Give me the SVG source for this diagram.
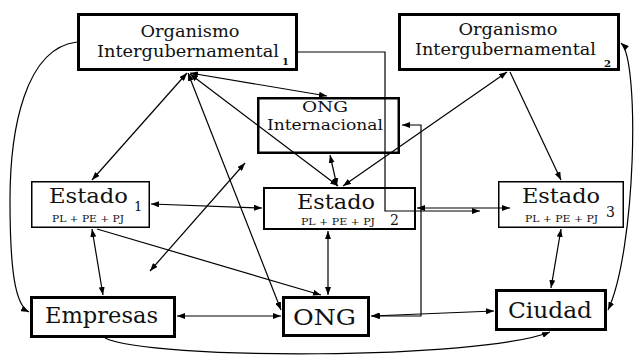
<svg xmlns="http://www.w3.org/2000/svg" width="635" height="355" viewBox="0 0 635 355">
<defs>
<marker id="ah" viewBox="0 0 8 6" refX="8" refY="3" markerWidth="8" markerHeight="6" markerUnits="userSpaceOnUse" orient="auto-start-reverse">
<path d="M0,0 L8,3 L0,6 z" fill="#000"/>
</marker>
<style>
.box{fill:#fff;stroke:#000}
text{font-family:"DejaVu Serif","Liberation Serif",serif;fill:#111}
.c path{fill:none;stroke:#000;stroke-width:1.2}
.b{marker-start:url(#ah);marker-end:url(#ah)}
.e{marker-end:url(#ah)}
</style>
</defs>
<rect width="635" height="355" fill="#fff"/>

<g id="OI1">
<rect class="box" x="78.5" y="14.5" width="218" height="55" stroke-width="3"/>
<text x="190" y="37" font-size="17" text-anchor="middle" textLength="99" lengthAdjust="spacingAndGlyphs">Organismo</text>
<text x="97" y="57" font-size="17" textLength="182" lengthAdjust="spacingAndGlyphs">Intergubernamental</text>
<text x="282" y="65" font-size="10" font-weight="bold">1</text>
</g>

<g id="OI2">
<rect class="box" x="399.5" y="14.5" width="219" height="55" stroke-width="3"/>
<text x="508" y="35" font-size="17" text-anchor="middle" textLength="99" lengthAdjust="spacingAndGlyphs">Organismo</text>
<text x="415" y="55" font-size="17" textLength="181" lengthAdjust="spacingAndGlyphs">Intergubernamental</text>
<text x="604" y="67" font-size="10" font-weight="bold">2</text>
</g>

<g id="ONGInt">
<rect class="box" x="258.25" y="98.25" width="140.5" height="54.5" stroke-width="2.5"/>
<text x="325" y="112" font-size="15" text-anchor="middle" textLength="46" lengthAdjust="spacingAndGlyphs">ONG</text>
<text x="267" y="130" font-size="15" textLength="116" lengthAdjust="spacingAndGlyphs">Internacional</text>
</g>

<g id="Estado1">
<rect class="box" x="31.75" y="181.75" width="117.5" height="45.5" stroke-width="1.5"/>
<text x="49" y="203" font-size="21" textLength="79" lengthAdjust="spacingAndGlyphs">Estado</text>
<text x="134" y="211" font-size="13">1</text>
<text x="52" y="222" font-size="10" textLength="72" lengthAdjust="spacingAndGlyphs">PL + PE + PJ</text>
</g>

<g id="Estado2">
<rect class="box" x="264" y="188" width="151" height="41" stroke-width="2"/>
<text x="297" y="209" font-size="21" textLength="78" lengthAdjust="spacingAndGlyphs">Estado</text>
<text x="301" y="225" font-size="10" textLength="74" lengthAdjust="spacingAndGlyphs">PL + PE + PJ</text>
<text x="390" y="225" font-size="14">2</text>
</g>

<g id="Estado3">
<rect class="box" x="498.75" y="181.75" width="124.5" height="45.5" stroke-width="1.5"/>
<text x="522" y="203" font-size="21" textLength="78" lengthAdjust="spacingAndGlyphs">Estado</text>
<text x="525" y="222" font-size="10" textLength="73" lengthAdjust="spacingAndGlyphs">PL + PE + PJ</text>
<text x="606" y="217" font-size="14">3</text>
</g>

<g id="Empresas">
<rect class="box" x="31.5" y="297.5" width="143" height="39" stroke-width="3"/>
<text x="45" y="323" font-size="22" textLength="113" lengthAdjust="spacingAndGlyphs">Empresas</text>
</g>

<g id="ONG">
<rect class="box" x="283.5" y="297.5" width="85" height="38" stroke-width="3"/>
<text x="293" y="325" font-size="22" textLength="63" lengthAdjust="spacingAndGlyphs">ONG</text>
</g>

<g id="Ciudad">
<rect class="box" x="496.5" y="290.5" width="109" height="39" stroke-width="3"/>
<text x="508" y="318" font-size="22" textLength="84" lengthAdjust="spacingAndGlyphs">Ciudad</text>
</g>

<g id="connectors" class="c">
<path class="e" d="M77,42 C25,48 10,130 10,200 C10,270 15,305 29,312"/>
<path class="e" d="M298,52 H385 V211 H480"/>
<path class="b" d="M402,125 H421 V316 H372"/>
<path class="b" d="M187,73 L92,180"/>
<path class="b" d="M188,73 L281,310"/>
<path class="b" d="M190,73 L327,96"/>
<path class="b" d="M190,74 L338,186"/>
<path class="b" d="M150,271 L245,163"/>
<path class="b" d="M151,204 L262,208"/>
<path class="e" d="M97,229 L321,295"/>
<path class="b" d="M92,229 L103,295"/>
<path class="b" d="M177,316 H281"/>
<path class="b" d="M328,231 V295"/>
<path class="b" d="M330,155 L337,186"/>
<path class="b" d="M507,72 L343,186"/>
<path class="e" d="M510,72 L561,180"/>
<path class="b" d="M417,208 H510"/>
<path class="b" d="M561,229 L551,288"/>
<path class="b" d="M371,316 L494,311"/>
<path class="b" d="M621,43 C640,60 636,250 608,310"/>
<path class="e" d="M105,338 C150,360 480,360 550,332"/>
</g>
</svg>
